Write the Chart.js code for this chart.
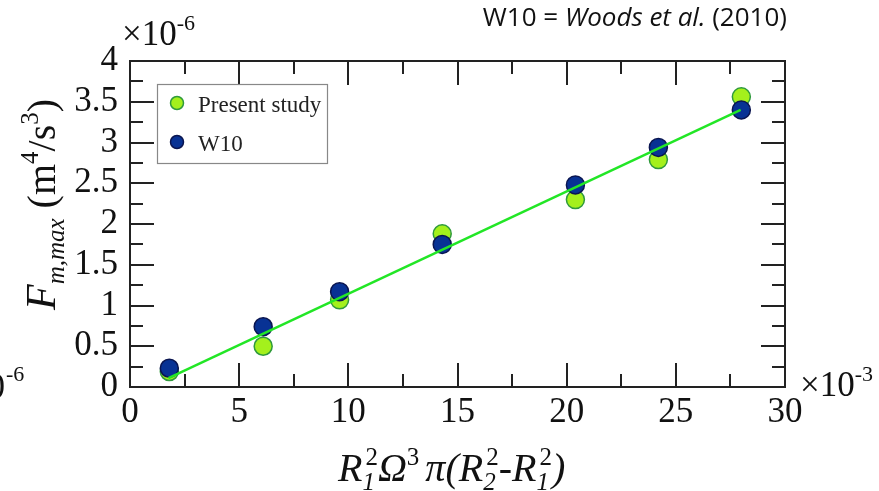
<!DOCTYPE html>
<html>
<head>
<meta charset="utf-8">
<script src="https://cdn.jsdelivr.net/npm/chart.js@4.4.0/dist/chart.umd.min.js"></script>
<style>
  body { margin: 0; background: #fff; }
  canvas { display: block; }
</style>
</head>
<body>
<canvas id="myChart" width="879" height="491"></canvas>
<script>
// x: R1^2 Ω^3 π(R2^2 - R1^2), units of 1e-3
const xValues = [1.8, 6.1, 9.6, 14.3, 20.4, 24.2, 28.0];
// Fm,max, units of 1e-6 m^4/s^3
const presentStudy = [0.19, 0.50, 1.07, 1.88, 2.30, 2.79, 3.56];
const w10 = [0.23, 0.74, 1.17, 1.75, 2.48, 2.94, 3.40];
// linear fit
const fitX = [1.76, 27.97];
const fitY = [0.11, 3.40];

const xTicks = [0, 5, 10, 15, 20, 25, 30];
const yTicks = [0, 0.5, 1, 1.5, 2, 2.5, 3, 3.5, 4];

const SERIF = '"Liberation Serif", "Times New Roman", serif';
const GREEN = '#a4f01c', GREEN_EDGE = '#2f9a3c';
const BLUE = '#083294', BLUE_EDGE = '#0a1550';

function fontOf(size, italic) {
  return (italic ? 'italic ' : '') + size + 'px ' + SERIF;
}

// draws a row of text pieces; "keep" stacks the next piece on top of it (sub + sup)
function drawRuns(ctx, runs, x, y) {
  let cx = x, held = 0;
  for (const r of runs) {
    ctx.font = fontOf(r.size, r.italic);
    ctx.fillText(r.t, cx + (r.dx || 0), y + (r.dy || 0));
    const w = ctx.measureText(r.t).width + (r.dx || 0);
    if (r.keep) { held = w; continue; }
    cx += Math.max(w, held) + (r.gap || 0);
    held = 0;
  }
}

const framePlugin = {
  id: 'frame',
  afterDraw(chart) {
    const ctx = chart.ctx;
    const { left, right, top, bottom } = chart.chartArea;
    const xs = chart.scales.x, ys = chart.scales.y;
    ctx.save();
    ctx.strokeStyle = '#222';
    ctx.lineWidth = 2;

    // inward ticks on all four sides
    ctx.beginPath();
    for (let v = 2.5; v < 30; v += 2.5) {
      const px = Math.round(xs.getPixelForValue(v));
      const len = v % 5 === 0 ? 24 : 13;
      ctx.moveTo(px, bottom); ctx.lineTo(px, bottom - len);
      ctx.moveTo(px, top); ctx.lineTo(px, top + len);
    }
    for (let v = 0.25; v < 4; v += 0.25) {
      const py = Math.round(ys.getPixelForValue(v));
      const len = v % 0.5 === 0 ? 24 : 13;
      ctx.moveTo(left, py); ctx.lineTo(left + len, py);
      ctx.moveTo(right, py); ctx.lineTo(right - len, py);
    }
    ctx.stroke();
    ctx.strokeRect(left, top, right - left, bottom - top);

    ctx.fillStyle = '#111';
    ctx.textAlign = 'left';
    ctx.textBaseline = 'alphabetic';

    // axis multipliers
    drawRuns(ctx, [{ t: '\u00d710', size: 35 }, { t: '-6', size: 22, dy: -15 }], 122, 45);
    drawRuns(ctx, [{ t: '\u00d710', size: 35 }, { t: '-3', size: 22, dy: -15 }], 800, 396);
    ctx.textAlign = 'right';
    ctx.font = fontOf(35);
    ctx.fillText('\u00d710', 5, 398);
    ctx.textAlign = 'left';
    ctx.font = fontOf(22);
    ctx.fillText('-6', 6, 381);

    // x title: R1^2 Ω^3 π(R2^2 - R1^2)
    drawRuns(ctx, [
      { t: 'R', size: 40, italic: true },
      { t: '1', size: 25, italic: true, dy: 9, keep: true },
      { t: '2', size: 25, dy: -16, dx: 3 },
      { t: '\u03a9', size: 40, italic: true },
      { t: '3', size: 25, dy: -16, gap: 6 },
      { t: '\u03c0', size: 40, italic: true },
      { t: '(', size: 40, italic: true },
      { t: 'R', size: 40, italic: true },
      { t: '2', size: 25, italic: true, dy: 9, keep: true },
      { t: '2', size: 25, dy: -16, dx: 3 },
      { t: '-', size: 40 },
      { t: 'R', size: 40, italic: true },
      { t: '1', size: 25, italic: true, dy: 9, keep: true },
      { t: '2', size: 25, dy: -16, dx: 3 },
      { t: ')', size: 40, italic: true }
    ], 338, 481);

    // y title: Fm,max (m^4/s^3)
    ctx.save();
    ctx.translate(55, 310);
    ctx.rotate(-Math.PI / 2);
    drawRuns(ctx, [
      { t: 'F', size: 42, italic: true },
      { t: 'm,max', size: 25, italic: true, dy: 9 },
      { t: ' (m', size: 40 },
      { t: '4', size: 25, dy: -17 },
      { t: '/s', size: 40 },
      { t: '3', size: 25, dy: -17 },
      { t: ')', size: 40 }
    ], 0, 0);
    ctx.restore();

    // legend box
    ctx.fillStyle = '#fff';
    ctx.fillRect(157, 84, 170, 79);
    ctx.strokeStyle = '#888';
    ctx.lineWidth = 1.2;
    ctx.strokeRect(157.5, 84.5, 170, 79);
    const items = [
      { label: 'Present study', fill: GREEN, edge: GREEN_EDGE, y: 103 },
      { label: 'W10', fill: BLUE, edge: BLUE_EDGE, y: 142 }
    ];
    for (const it of items) {
      ctx.beginPath();
      ctx.arc(177, it.y, 6.5, 0, Math.PI * 2);
      ctx.fillStyle = it.fill;
      ctx.fill();
      ctx.lineWidth = 1.5;
      ctx.strokeStyle = it.edge;
      ctx.stroke();
      ctx.fillStyle = '#222';
      ctx.font = fontOf(23);
      ctx.fillText(it.label, 198, it.y + 9);
    }

    // reference note, top right
    const sans = '"Open Sans", "Liberation Sans", sans-serif';
    const parts = [
      { t: 'W10 = ', f: '26px ' + sans },
      { t: 'Woods et al.', f: 'italic 26px ' + sans },
      { t: ' (2010)', f: '26px ' + sans }
    ];
    let total = 0;
    for (const p of parts) { ctx.font = p.f; total += ctx.measureText(p.t).width; }
    let nx = 787 - total;
    ctx.fillStyle = '#111';
    for (const p of parts) {
      ctx.font = p.f;
      ctx.fillText(p.t, nx, 26);
      nx += ctx.measureText(p.t).width;
    }
    ctx.restore();
  }
};

const tickFont = { family: SERIF, size: 35 };

new Chart(document.getElementById('myChart'), {
  type: 'scatter',
  data: {
    datasets: [
      {
        label: 'fit',
        data: fitX.map((x, i) => ({ x: x, y: fitY[i] })),
        showLine: true,
        borderColor: '#22e626',
        borderWidth: 2.5,
        pointRadius: 0,
        order: 0
      },
      {
        label: 'W10',
        data: xValues.map((x, i) => ({ x: x, y: w10[i] })),
        backgroundColor: BLUE,
        borderColor: BLUE_EDGE,
        borderWidth: 1.5,
        pointRadius: 9,
        order: 1
      },
      {
        label: 'Present study',
        data: xValues.map((x, i) => ({ x: x, y: presentStudy[i] })),
        backgroundColor: GREEN,
        borderColor: GREEN_EDGE,
        borderWidth: 1.5,
        pointRadius: 9,
        order: 2
      }
    ]
  },
  options: {
    responsive: false,
    animation: false,
    devicePixelRatio: 1,
    layout: { padding: { top: 61, right: 94, left: 0, bottom: 0 } },
    plugins: { legend: { display: false }, tooltip: { enabled: false } },
    scales: {
      x: {
        type: 'linear',
        min: 0,
        max: 30,
        afterBuildTicks: s => { s.ticks = xTicks.map(v => ({ value: v })); },
        afterFit: s => { s.height = 104; },
        grid: { display: false, drawTicks: false },
        border: { display: false },
        ticks: { padding: 5, font: tickFont, color: '#111', maxRotation: 0, autoSkip: false, callback: v => String(v) }
      },
      y: {
        type: 'linear',
        min: 0,
        max: 4,
        afterBuildTicks: s => { s.ticks = yTicks.map(v => ({ value: v })); },
        afterFit: s => { s.width = 130; },
        grid: { display: false, drawTicks: false },
        border: { display: false },
        ticks: { padding: 12, font: tickFont, color: '#111', autoSkip: false, callback: v => String(v) }
      }
    }
  },
  plugins: [framePlugin]
});
</script>
</body>
</html>
